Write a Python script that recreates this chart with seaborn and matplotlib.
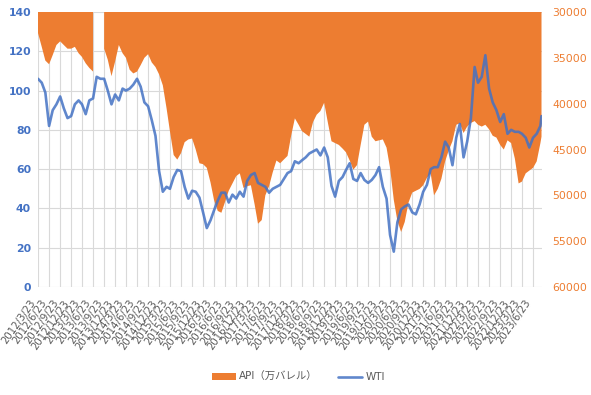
import numpy as np
import pandas as pd
import matplotlib
matplotlib.use("Agg")
import matplotlib.pyplot as plt
import seaborn as sns

# ---- data (monthly readings, 2012/3/23 ... 2023/8/23, then 2023/9/1) ----
api = [32300, 33800, 35300, 35700, 34700, 33600, 33200, 33600, 34000, 34000,
       33800, 34500, 34900, 35600, 36100, 36500, np.nan, np.nan, 34000, 35200,
       37000, 35400, 33600, 34500, 35000, 36300, 36700, 36500, 35800, 35000,
       34600, 35500, 36000, 36800, 38000, 40500, 43000, 45600, 46100, 45400,
       44200, 43900, 43800, 45000, 46500, 46600, 47000, 48600, 50500, 51700,
       51900, 50700, 49500, 48700, 47900, 47600, 49200, 49000, 48900, 51000,
       53100, 52700, 50000, 49000, 47500, 46200, 46500, 46100, 45700, 43500,
       41600, 42300, 43000, 43300, 43600, 42000, 41200, 40800, 39900, 42000,
       44100, 44300, 44500, 44900, 45300, 46200, 47200, 46700, 44500, 42300,
       41950, 43600, 44100, 44000, 43900, 44800, 47000, 50500, 52800, 54000,
       52900, 50800, 49700, 49500, 49300, 48900, 48100, 47600, 50000, 49300,
       48200, 46300, 45100, 44100, 42300, 42150, 43200, 42500, 42100, 41900,
       42300, 42500, 42300, 42800, 43500, 43700, 44500, 45000, 44000, 44300,
       46000, 48700, 48500, 47600, 47300, 47000, 46300, 44300, 43600]

wti = [106, 104, 99, 82, 90, 93, 97, 91, 86, 87,
       93, 95, 93, 88, 95, 96, 107, 106, 106, 100,
       93, 98, 95, 101, 100, 101, 103, 106, 102, 94,
       92, 85, 77, 59, 48.5, 51, 50, 56, 59.6, 59,
       51, 45, 49, 48.5, 45.5, 38, 30, 34, 39, 44,
       48, 48, 43, 47, 45, 48.5, 46, 54, 57, 58,
       53, 52, 51, 48, 50, 51, 52, 55, 58, 59,
       64, 63, 64.5, 66, 68, 69, 70, 67, 71, 66,
       51.5, 46, 54, 56, 59.5, 63, 55, 54, 58, 54.5,
       53, 54.5, 57, 61, 51, 45, 26.5, 18, 33, 39.5,
       41, 42, 38, 37, 42, 48.5, 52, 60, 61, 61,
       66, 74, 71, 62, 76, 83, 66, 74, 86, 112,
       104, 107, 118, 101, 94, 90, 84, 88, 78, 80,
       79, 79, 78, 76, 71, 76, 78, 82, 87]

dates = list(pd.date_range("2012-03-23", periods=len(api) - 1,
                           freq=pd.DateOffset(months=1))) + [pd.Timestamp("2023-09-01")]
tick_dates = list(pd.date_range("2012-03-23", "2023-06-23", freq=pd.DateOffset(months=3)))
tick_labels = [f"{d.year}/{d.month}/{d.day}" for d in tick_dates]
left_ticks = list(range(0, 141, 20))
right_ticks = list(range(30000, 60001, 5000))

df = pd.DataFrame({"date": dates, "API": api, "WTI": wti})

# ---- style ----
sns.set_theme(style="white")
plt.rcParams["font.family"] = ["DejaVu Sans", "Noto Sans CJK JP"]

ORANGE = "#ED7D31"
BLUE = "#4472C4"
GRID = "#D9D9D9"
GREY = "#595959"

W, H = 591, 395
fig = plt.figure(figsize=(W / 100, H / 100), dpi=100)
ax1 = fig.add_axes([38 / W, 1 - 287 / H, (541.5 - 38) / W, (287 - 12) / H])
ax2 = ax1.twinx()
ax3 = ax1.twinx()

x0, x1 = pd.Timestamp("2012-03-23"), pd.Timestamp("2023-09-01")

# base axis: gridlines + left ticks
ax1.set_xlim(x0, x1)
ax1.set_ylim(0, 140)
ax1.set_yticks(left_ticks)
ax1.set_xticks(tick_dates)
ax1.set_xticklabels(tick_labels, rotation=55, ha="right", va="top",
                    fontsize=7.3, color=GREY)
ax1.grid(True, axis="both", color=GRID, linewidth=0.8)
ax1.tick_params(axis="y", length=0, pad=5, labelsize=7.8, labelcolor=BLUE)
ax1.tick_params(axis="x", length=0, pad=8)
for lbl in ax1.get_yticklabels():
    lbl.set_fontweight("bold")

# API area (reversed right axis)
ax2.fill_between(df["date"], 30000, df["API"], color=ORANGE, linewidth=0,
                 label="API（万バレル）")
ax2.set_ylim(60000, 30000)
ax2.set_yticks(right_ticks)
ax2.tick_params(axis="y", length=0, pad=8, labelsize=7.8, labelcolor=ORANGE)
ax2.set_xlim(x0, x1)

# WTI line on top
sns.lineplot(data=df, x="date", y="WTI", ax=ax3, color=BLUE, linewidth=1.9,
             alpha=0.85, label="WTI", legend=False)
ax3.set_ylim(0, 140)
ax3.set_xlim(x0, x1)
ax3.set_yticks([])
ax3.set_ylabel("")
ax3.set_xlabel("")
ax1.set_xlabel("")
ax2.set_ylabel("")

for a in (ax1, ax2, ax3):
    for s in a.spines.values():
        s.set_visible(False)

h2, l2 = ax2.get_legend_handles_labels()
h3, l3 = ax3.get_legend_handles_labels()
fig.legend(h2 + h3, l2 + l3, loc="center", bbox_to_anchor=(0.505, 0.045),
           ncol=2, frameon=False, fontsize=7.5, handlelength=2.3,
           handleheight=0.7, columnspacing=2.0, handletextpad=0.3,
           labelcolor=GREY)

fig.savefig("out.png", dpi=100)
